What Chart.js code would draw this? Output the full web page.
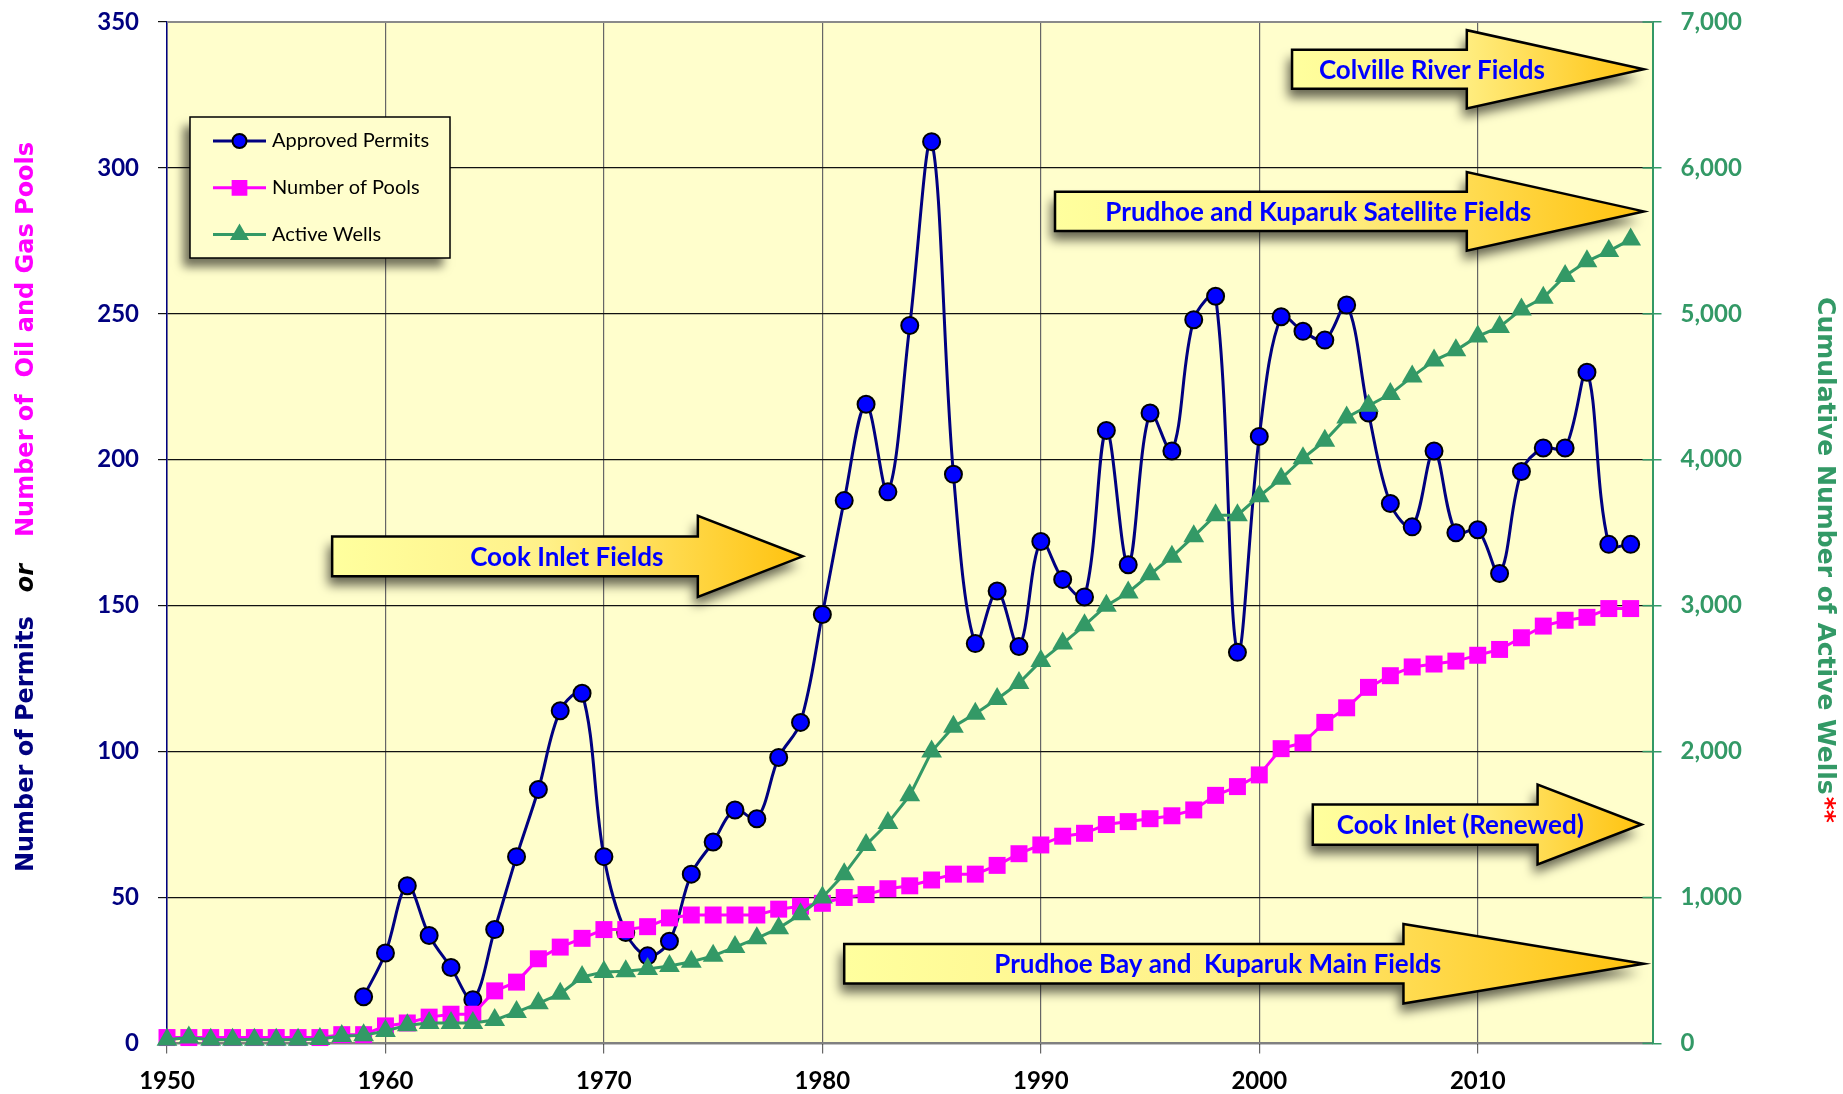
<!DOCTYPE html>
<html>
<head>
<meta charset="utf-8">
<script src="https://cdn.jsdelivr.net/npm/chart.js@4.4.1/dist/chart.umd.min.js"></script>
<style>
  html, body { margin: 0; padding: 0; background: #fff; }
  #caja { width: 1843px; height: 1094px; }
</style>
</head>
<body>
<div id="caja"><canvas id="grafica" width="1843" height="1094"></canvas></div>
<script>
// años
const anios = [1950,1951,1952,1953,1954,1955,1956,1957,1958,1959,
               1960,1961,1962,1963,1964,1965,1966,1967,1968,1969,
               1970,1971,1972,1973,1974,1975,1976,1977,1978,1979,
               1980,1981,1982,1983,1984,1985,1986,1987,1988,1989,
               1990,1991,1992,1993,1994,1995,1996,1997,1998,1999,
               2000,2001,2002,2003,2004,2005,2006,2007,2008,2009,
               2010,2011,2012,2013,2014,2015,2016,2017];

// Approved Permits (eje izquierdo)
const permisos = [null,null,null,null,null,null,null,null,null,16,
                  31,54,37,26,15,39,64,87,114,120,
                  64,38,30,35,58,69,80,77,98,110,
                  147,186,219,189,246,309,195,137,155,136,
                  172,159,153,210,164,216,203,248,256,134,
                  208,249,244,241,253,216,185,177,203,175,
                  176,161,196,204,204,230,171,171];

// Number of Pools (eje izquierdo)
const pozos = [2,2,2,2,2,2,2,2,3,3,
               6,7,9,10,10,18,21,29,33,36,
               39,39,40,43,44,44,44,44,46,47,
               48,50,51,53,54,56,58,58,61,65,
               68,71,72,75,76,77,78,80,85,88,
               92,101,103,110,115,122,126,129,130,131,
               133,135,139,143,145,146,149,149];

// Active Wells (eje derecho)
const activos = [25,40,25,25,25,25,25,30,50,55,
                 85,125,140,140,140,160,215,275,340,455,
                 490,495,510,530,560,600,660,720,790,885,
                 1000,1160,1360,1510,1700,2000,2170,2260,2360,2470,
                 2620,2740,2865,3000,3090,3215,3335,3475,3620,3620,
                 3750,3870,4010,4130,4290,4370,4450,4570,4680,4750,
                 4845,4910,5030,5110,5260,5360,5430,5510];

const ticksX = [1950,1960,1970,1980,1990,2000,2010];

// flechas (en unidades de los ejes x / y izquierdo)
const flechas = [
  {texto:'Colville River Fields', x0:2001.5, xc:2009.5, xp:2017.6, y:333.8, cuerpo:6.7, cabeza:13.4, xt:2007.9},
  {texto:'Prudhoe and Kuparuk Satellite Fields', x0:1990.65, xc:2009.5, xp:2017.6, y:285.1, cuerpo:6.7, cabeza:13.5, xt:2002.7},
  {texto:'Cook Inlet Fields', x0:1957.56, xc:1974.3, xp:1979.1, y:166.9, cuerpo:6.8, cabeza:13.9, xt:1968.3},
  {texto:'Cook Inlet (Renewed)', x0:2002.45, xc:2012.74, xp:2017.5, y:75, cuerpo:6.9, cabeza:13.7, xt:2009.2},
  {texto:'Prudhoe Bay and  Kuparuk Main Fields', x0:1981, xc:2006.6, xp:2017.6, y:27.3, cuerpo:6.8, cabeza:13.6, xt:1998.1}
];

const puntos = serie => anios.map((a, i) => ({x: a, y: serie[i]}));

const fuenteTick = {family: 'Lato', size: 24, weight: 'bold'};

const fondo = {
  id: 'fondo',
  beforeDraw(chart) {
    const {ctx, chartArea: a} = chart;
    ctx.save();
    ctx.fillStyle = '#FFFECC';
    ctx.fillRect(a.left, a.top, a.right - a.left, a.bottom - a.top);
    ctx.restore();
  },
  beforeDatasetsDraw(chart) {
    const {ctx, chartArea: a} = chart;
    ctx.save();
    ctx.strokeStyle = '#8a8a8a';
    ctx.lineWidth = 2;
    ctx.beginPath();
    ctx.moveTo(a.left, a.top);
    ctx.lineTo(a.right, a.top);
    ctx.stroke();
    // marcas verdes hacia dentro del eje derecho
    const s2 = chart.scales.y2;
    ctx.strokeStyle = '#339966';
    ctx.lineWidth = 1.5;
    s2.ticks.forEach(t => {
      const y = s2.getPixelForValue(t.value);
      ctx.beginPath();
      ctx.moveTo(a.right - 10, y);
      ctx.lineTo(a.right, y);
      ctx.stroke();
    });
    ctx.restore();
  }
};

const dibujaFlechas = {
  id: 'flechas',
  afterDatasetsDraw(chart) {
    const ctx = chart.ctx;
    const sx = chart.scales.x, sy = chart.scales.y;
    flechas.forEach(f => {
      const x0 = sx.getPixelForValue(f.x0), xc = sx.getPixelForValue(f.xc), xp = sx.getPixelForValue(f.xp);
      const yc = sy.getPixelForValue(f.y);
      const ct = sy.getPixelForValue(f.y + f.cuerpo), cb = sy.getPixelForValue(f.y - f.cuerpo);
      const ht = sy.getPixelForValue(f.y + f.cabeza), hb = sy.getPixelForValue(f.y - f.cabeza);
      ctx.save();
      ctx.beginPath();
      ctx.moveTo(x0, ct);
      ctx.lineTo(xc, ct);
      ctx.lineTo(xc, ht);
      ctx.lineTo(xp, yc);
      ctx.lineTo(xc, hb);
      ctx.lineTo(xc, cb);
      ctx.lineTo(x0, cb);
      ctx.closePath();
      const g = ctx.createLinearGradient(x0, 0, xp, 0);
      g.addColorStop(0, '#FFFF9E');
      g.addColorStop(0.45, '#FFF18A');
      g.addColorStop(1, '#FFC20E');
      ctx.fillStyle = g;
      ctx.shadowColor = 'rgba(0,0,0,0.6)';
      ctx.shadowBlur = 11;
      ctx.shadowOffsetX = -4;
      ctx.shadowOffsetY = 9;
      ctx.fill();
      ctx.shadowColor = 'transparent';
      ctx.lineWidth = 2.5;
      ctx.strokeStyle = '#000';
      ctx.lineJoin = 'miter';
      ctx.stroke();
      ctx.font = 'bold 26px Lato';
      ctx.fillStyle = '#0000FF';
      ctx.textAlign = 'center';
      ctx.textBaseline = 'alphabetic';
      ctx.fillText(f.texto, sx.getPixelForValue(f.xt), yc + 26 * 0.36);
      ctx.restore();
    });
  }
};

function textoGirado(ctx, partes, cx, cy, ang) {
  ctx.save();
  ctx.translate(cx, cy);
  ctx.rotate(ang);
  let total = 0;
  partes.forEach(p => { ctx.font = p.f; p.w = ctx.measureText(p.t).width; total += p.w + (p.hueco || 0); });
  let x = -total / 2;
  ctx.textBaseline = 'middle';
  ctx.textAlign = 'left';
  partes.forEach(p => {
    ctx.font = p.f;
    ctx.fillStyle = p.c;
    ctx.fillText(p.t, x, 0);
    x += p.w + (p.hueco || 0);
  });
  ctx.restore();
}

const extras = {
  id: 'extras',
  afterDraw(chart) {
    const ctx = chart.ctx;
    const a = chart.chartArea;
    // leyenda
    const lx = a.left + 23, ly = a.top + 95, lw = 260, lh = 141;
    ctx.save();
    ctx.fillStyle = '#FFFECC';
    ctx.shadowColor = 'rgba(0,0,0,0.55)';
    ctx.shadowBlur = 9;
    ctx.shadowOffsetX = -7;
    ctx.shadowOffsetY = 9;
    ctx.fillRect(lx, ly, lw, lh);
    ctx.shadowColor = 'transparent';
    ctx.strokeStyle = '#000';
    ctx.lineWidth = 1.5;
    ctx.strokeRect(lx, ly, lw, lh);
    const filas = [
      {t: 'Approved Permits', linea: '#000080', estilo: 'circle', relleno: '#0000FF', borde: '#000', r: 7},
      {t: 'Number of Pools', linea: '#FF00FF', estilo: 'rect', relleno: '#FF00FF', borde: '#FF00FF', r: 9},
      {t: 'Active Wells', linea: '#339966', estilo: 'triangle', relleno: '#339966', borde: '#339966', r: 8}
    ];
    filas.forEach((f, i) => {
      const y = ly + 24 + i * 46.8;
      ctx.strokeStyle = f.linea;
      ctx.lineWidth = 3;
      ctx.beginPath();
      ctx.moveTo(lx + 23, y);
      ctx.lineTo(lx + 76, y);
      ctx.stroke();
      ctx.fillStyle = f.relleno;
      ctx.strokeStyle = f.borde;
      ctx.lineWidth = f.estilo === 'circle' ? 2 : 0;
      Chart.helpers.drawPoint(ctx, {pointStyle: f.estilo, radius: f.r, borderWidth: ctx.lineWidth, rotation: 0}, lx + 49.5, y);
      ctx.fillStyle = '#000';
      ctx.font = '20px Lato';
      ctx.textBaseline = 'middle';
      ctx.fillText(f.t, lx + 82, y);
    });
    ctx.restore();

    // titulos de ejes
    const fb = 'bold 24px "DejaVu Sans"';
    textoGirado(ctx, [
      {t: 'Number of Permits', c: '#000080', f: fb, hueco: 24},
      {t: 'or', c: '#000', f: 'italic bold 24px "DejaVu Sans"', hueco: 27},
      {t: 'Number of  Oil and Gas Pools', c: '#FF00FF', f: fb}
    ], 27, 507, -Math.PI / 2);
    const fd = 'bold 25px "DejaVu Sans"';
    textoGirado(ctx, [
      {t: 'Cumulative Number of Active Wells', c: '#339966', f: fd, hueco: 2},
      {t: '**', c: '#FF0000', f: fd}
    ], 1824, 560, Math.PI / 2);
  }
};

const sinRelleno = s => { s.paddingTop = 0; s.paddingBottom = 0; s.paddingLeft = 0; s.paddingRight = 0; };

new Chart(document.getElementById('grafica'), {
  type: 'line',
  data: {
    datasets: [
      {
        label: 'Approved Permits',
        data: puntos(permisos),
        order: 2,
        yAxisID: 'y',
        borderColor: '#000080',
        borderWidth: 3,
        tension: 0.35,
        pointStyle: 'circle',
        pointRadius: 8.5,
        pointBackgroundColor: '#0000FF',
        pointBorderColor: '#000',
        pointBorderWidth: 2,
        clip: false
      },
      {
        label: 'Number of Pools',
        data: puntos(pozos),
        order: 1,
        yAxisID: 'y',
        borderColor: '#FF00FF',
        borderWidth: 3,
        tension: 0,
        pointStyle: 'rect',
        pointRadius: 12,
        pointBackgroundColor: '#FF00FF',
        pointBorderColor: '#FF00FF',
        pointBorderWidth: 0,
        clip: false
      },
      {
        label: 'Active Wells',
        data: puntos(activos),
        order: 0,
        yAxisID: 'y2',
        borderColor: '#339966',
        borderWidth: 3,
        tension: 0,
        pointStyle: 'triangle',
        pointRadius: 12,
        pointBackgroundColor: '#339966',
        pointBorderColor: '#339966',
        pointBorderWidth: 0,
        clip: false
      }
    ]
  },
  options: {
    responsive: false,
    animation: false,
    devicePixelRatio: 1,
    layout: {padding: {top: 22, left: 0, right: 0, bottom: 0}},
    plugins: {legend: {display: false}, tooltip: {enabled: false}},
    scales: {
      x: {
        type: 'linear',
        min: 1950,
        max: 2018,
        afterBuildTicks: s => { s.ticks = ticksX.map(v => ({value: v})); },
        afterFit: s => { s.height = 50.6; sinRelleno(s); },
        ticks: {font: fuenteTick, color: '#000', padding: 13, maxRotation: 0,
                callback: v => String(v)},
        grid: {color: '#666', lineWidth: 1.2, tickLength: 10},
        border: {color: '#808080', width: 2}
      },
      y: {
        position: 'left',
        min: 0,
        max: 350,
        ticks: {stepSize: 50, font: fuenteTick, color: '#000080', padding: 19},
        grid: {color: '#111', lineWidth: 1.2, tickLength: 9},
        border: {color: '#000080', width: 1.5},
        afterFit: s => { s.width = 167; sinRelleno(s); }
      },
      y2: {
        position: 'right',
        min: 0,
        max: 7000,
        ticks: {stepSize: 1000, font: fuenteTick, color: '#339966', padding: 19,
                callback: v => v.toLocaleString('en-US')},
        grid: {drawOnChartArea: false, color: '#339966', lineWidth: 1.5, tickLength: 9},
        border: {color: '#339966', width: 2},
        afterFit: s => { s.width = 190.5; sinRelleno(s); }
      }
    }
  },
  plugins: [fondo, dibujaFlechas, extras]
});
</script>
</body>
</html>
